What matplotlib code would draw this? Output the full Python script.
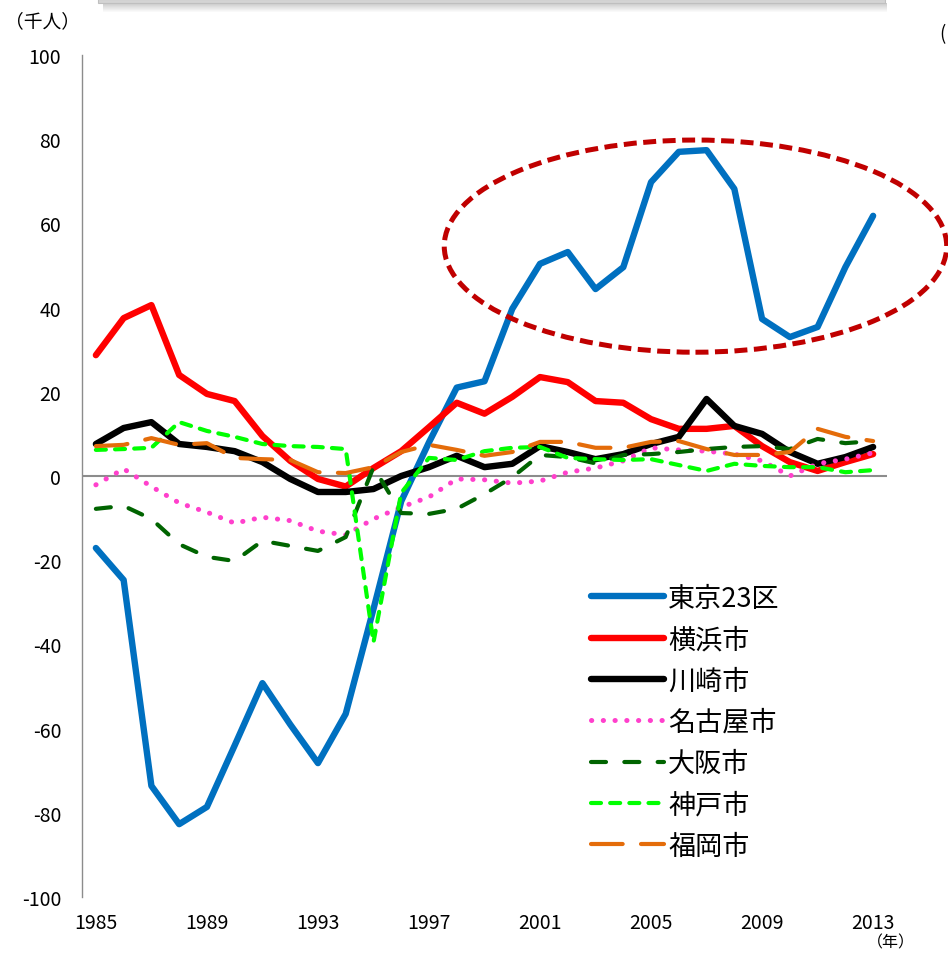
import matplotlib
matplotlib.use("Agg")
import matplotlib.pyplot as plt
from matplotlib.patches import Ellipse, Rectangle

plt.rcParams["font.family"] = ["Noto Sans CJK JP", "DejaVu Sans"]
plt.rcParams["axes.unicode_minus"] = False

# Net migration by city (thousand people), 1985-2013
years = list(range(1985, 2014))

tokyo = [-17.1, -24.7, -73.6, -82.7, -78.6, -64.0, -49.2, -59.0, -68.2, -56.5,
         -31.6, -6.0, 8.0, 21.0, 22.5, 39.7, 50.4, 53.2, 44.4, 49.6,
         69.8, 77.0, 77.4, 68.2, 37.3, 33.0, 35.4, 49.6, 61.8]
yokohama = [28.7, 37.5, 40.6, 24.0, 19.5, 17.8, 9.5, 3.6, -0.7, -2.5,
            1.9, 5.9, 11.6, 17.4, 14.8, 18.8, 23.5, 22.3, 17.8, 17.4,
            13.5, 11.2, 11.2, 11.9, 7.1, 3.3, 1.2, 3.3, 5.2]
kawasaki = [7.6, 11.4, 12.8, 7.6, 6.9, 5.9, 3.3, -0.7, -3.8, -3.8,
            -3.1, 0.0, 2.1, 4.8, 2.1, 2.9, 7.1, 5.7, 4.0, 5.2,
            7.6, 9.3, 18.3, 11.9, 10.0, 5.7, 2.9, 4.5, 6.9]
nagoya = [-2.1, 1.7, -2.5, -6.4, -8.6, -11.2, -9.8, -10.6, -13.1, -14.0,
          -10.2, -7.4, -5.0, -0.7, -0.9, -1.7, -1.2, 0.9, 1.9, 3.6,
          6.7, 6.2, 5.9, 5.2, 3.6, 0.0, 2.9, 4.0, 5.5]
osaka = [-7.8, -7.1, -10.2, -16.2, -19.2, -20.2, -15.4, -16.6, -17.8, -14.5,
         2.1, -8.8, -9.0, -7.8, -4.3, -0.3, 5.0, 4.5, 3.0, 5.0,
         5.2, 5.7, 6.4, 6.9, 7.1, 6.4, 8.8, 7.8, 8.3]
kobe = [6.2, 6.4, 6.7, 12.8, 10.7, 9.3, 7.6, 7.1, 6.9, 6.4,
        -39.5, -4.0, 4.3, 3.8, 5.9, 6.7, 6.9, 4.3, 4.0, 3.8,
        4.0, 2.6, 1.2, 2.9, 2.4, 2.1, 2.1, 0.9, 1.4]
fukuoka = [7.1, 7.4, 9.0, 7.4, 7.8, 4.3, 4.0, 3.8, 0.9, 0.7,
           2.1, 5.7, 7.4, 6.2, 4.8, 5.7, 8.1, 8.1, 6.7, 6.7,
           8.1, 8.3, 6.4, 5.0, 5.0, 5.7, 11.2, 9.3, 8.3]

labels = ["東京23区", "横浜市", "川崎市", "名古屋市", "大阪市", "神戸市", "福岡市"]
year_ticks = list(range(1985, 2014, 4))
value_ticks = list(range(-100, 101, 20))

W, H = 948, 962
fig = plt.figure(figsize=(W / 100, H / 100), dpi=100)


def fx(px):
    return px / W


def fy(py):
    return 1 - py / H


ax_left, ax_right, ax_top, ax_bottom = 82, 887, 56, 898
ax = fig.add_axes([fx(ax_left), fy(ax_bottom), fx(ax_right) - fx(ax_left), fy(ax_top) - fy(ax_bottom)])

series = [
    (tokyo, dict(color="#0070C0", lw=4.6, solid_capstyle="round", solid_joinstyle="round")),
    (yokohama, dict(color="#FF0000", lw=4.6, solid_capstyle="round", solid_joinstyle="round")),
    (kawasaki, dict(color="#000000", lw=4.6, solid_capstyle="round", solid_joinstyle="round")),
    (nagoya, dict(color="#FF40CC", lw=3.6, linestyle=(0, (0.05, 2.3)), dash_capstyle="round")),
    (osaka, dict(color="#006400", lw=3.0, linestyle=(0, (3.6, 4.4)), dash_capstyle="round")),
    (kobe, dict(color="#00FF00", lw=3.0, linestyle=(0, (2.4, 2.2)), dash_capstyle="round")),
    (fukuoka, dict(color="#E46C0A", lw=3.0, linestyle=(0, (7.6, 4.4)), dash_capstyle="round")),
]
for (vals, style), name in zip(series, labels):
    ax.plot(years, vals, label=name, **style)

ax.axhline(0, color="#8c8c8c", lw=1.5, zorder=0)

ax.set_xlim(1984.5, 2013.5)
ax.set_ylim(-100, 100)
ax.set_xticks(year_ticks)
ax.set_yticks(value_ticks)
ax.tick_params(axis="both", length=0, labelsize=14)
ax.tick_params(axis="y", pad=15)
ax.tick_params(axis="x", pad=11)
for side in ["top", "right", "bottom"]:
    ax.spines[side].set_visible(False)
ax.spines["left"].set_color("#8c8c8c")
ax.spines["left"].set_linewidth(1.0)

# Highlight around the Tokyo peak years
ax.add_patch(Ellipse((2006.6, 54.6), 18.1, 50.4, fill=False, edgecolor="#C00000",
                     lw=3.6, linestyle=(0, (2.6, 1.3)), clip_on=False, zorder=5))

ax_w = ax_right - ax_left
ax_h = ax_bottom - ax_top
ax.legend(loc="upper left",
          bbox_to_anchor=((580 - ax_left) / ax_w, (ax_bottom - 575) / ax_h),
          frameon=False, fontsize=19.5, handlelength=2.7, handletextpad=0.15,
          labelspacing=0.53, borderaxespad=0)

fig.text(fx(42), fy(22), "（千人）", ha="center", va="center", fontsize=13.5)
fig.text(fx(891), fy(943), "（年）", ha="center", va="center", fontsize=11.5)
fig.text(fx(939), fy(35), "(", ha="left", va="center", fontsize=13.5)

# Grey bar with a soft shadow along the top edge
for i in range(9):
    fig.patches.append(Rectangle((fx(103), fy(5 + i)), fx(887) - fx(103), 1 / H,
                                 transform=fig.transFigure, facecolor="#000000",
                                 alpha=0.2 * (1 - i / 9), edgecolor="none"))
fig.patches.append(Rectangle((fx(98), fy(4)), fx(885) - fx(98), 4 / H,
                             transform=fig.transFigure, facecolor="#d4d4d4",
                             edgecolor="#bfbfbf", lw=0.8))

fig.savefig("out.png", dpi=100)
